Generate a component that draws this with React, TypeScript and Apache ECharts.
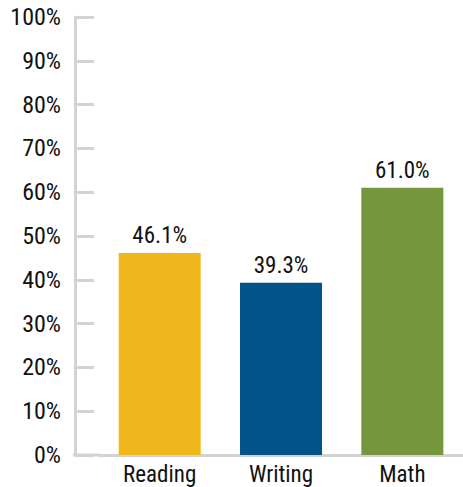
import React, { useEffect, useRef } from "react";
import * as echarts from "echarts";

const categories = ["Reading", "Writing", "Math"];
const values = [46.1, 39.3, 61.0];
const barColors = ["#F0B81C", "#02538A", "#76963D"];
const yTicks = [0, 10, 20, 30, 40, 50, 60, 70, 80, 90, 100];

const FONT = "Roboto";

export default function App() {
  const ref = useRef<HTMLDivElement>(null);
  useEffect(() => {
    if (!ref.current) return;
    const chart = echarts.init(ref.current, undefined, { renderer: "svg" });
    chart.setOption({
      animation: false,
      grid: { left: 98, right: -2, top: 17, bottom: 32, containLabel: false },
      graphic: [
        {
          type: "line",
          shape: { x1: 73, y1: 455, x2: 99, y2: 455 },
          style: { stroke: "#d3d3d3", lineWidth: 3 },
          z: 10,
        },
      ],
      xAxis: {
        type: "category",
        data: categories,
        axisLine: { show: true, lineStyle: { color: "#d3d3d3", width: 3 } },
        axisTick: { show: false },
        axisLabel: {
          color: "#111",
          fontFamily: FONT,
          fontSize: 23,
          margin: 8,
        },
      },
      yAxis: {
        type: "value",
        min: yTicks[0],
        max: yTicks[yTicks.length - 1],
        interval: 10,
        offset: 24,
        splitLine: { show: false },
        axisLine: { show: true, lineStyle: { color: "#d3d3d3", width: 3 } },
        axisTick: { show: true, inside: true, length: 19, lineStyle: { color: "#d3d3d3", width: 3 } },
        axisLabel: {
          color: "#111",
          fontFamily: FONT,
          fontSize: 24,
          margin: 14,
          padding: [10, 0, 0, 0],
          formatter: "{value}%",
        },
      },
      series: [
        {
          type: "bar",
          barWidth: 82,
          data: values.map((v, i) => ({ value: v, itemStyle: { color: barColors[i] } })),
          label: {
            show: true,
            position: "top",
            distance: 6,
            color: "#111",
            fontFamily: FONT,
            fontSize: 23,
            formatter: (p: any) => p.value.toFixed(1) + "%",
          },
        },
      ],
    });
    return () => chart.dispose();
  }, []);
  return (
    <>
      <style>{`#chart text { font-stretch: condensed !important; }`}</style>
      <div
        id="chart"
        ref={ref}
        style={{ position: "fixed", left: 0, top: 0, width: 463, height: 487, background: "#fff" }}
      />
    </>
  );
}
